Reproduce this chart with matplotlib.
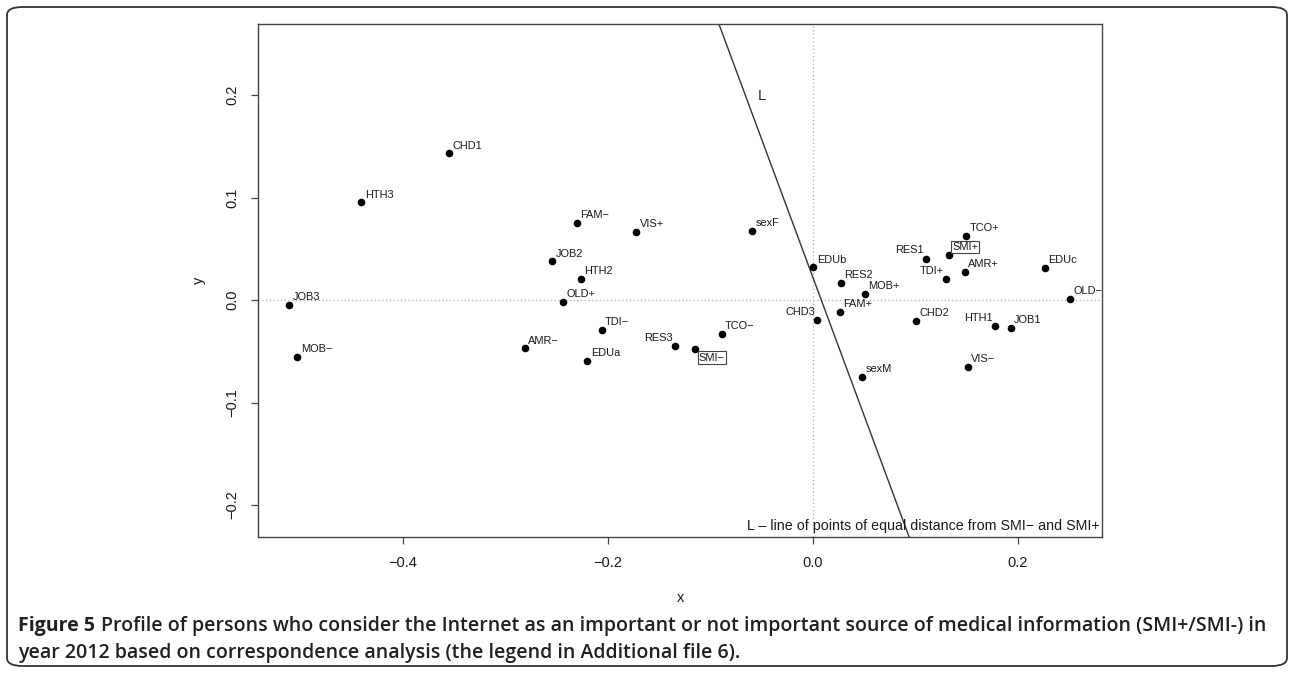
import matplotlib
matplotlib.use("Agg")
import matplotlib.pyplot as plt
from matplotlib.patches import FancyBboxPatch
import numpy as np

M = "\u2212"

# category points from the correspondence analysis
labels = ["CHD1", "HTH3", "FAM" + M, "VIS+", "sexF", "JOB2", "HTH2", "OLD+",
          "JOB3", "MOB" + M, "TDI" + M, "AMR" + M, "EDUa", "RES3", "TCO" + M,
          "EDUb", "RES2", "MOB+", "FAM+", "CHD3", "sexM", "CHD2", "RES1",
          "TCO+", "TDI+", "AMR+", "EDUc", "OLD" + M, "HTH1", "JOB1", "VIS" + M]
xs = [-0.3545, -0.4404, -0.2302, -0.1721, -0.0592, -0.2543, -0.2263, -0.2433,
      -0.5109, -0.5028, -0.2059, -0.2810, -0.2199, -0.1343, -0.0888,
      0.0006, 0.0273, 0.0510, 0.0263, 0.0045, 0.0484, 0.1008, 0.1105,
      0.1496, 0.1300, 0.1486, 0.2266, 0.2510, 0.1779, 0.1932, 0.1512]
ys = [0.1431, 0.0953, 0.0754, 0.0663, 0.0676, 0.0378, 0.0208, -0.0017,
      -0.0049, -0.0556, -0.0293, -0.0471, -0.0592, -0.0452, -0.0329,
      0.0319, 0.0166, 0.0059, -0.0117, -0.0198, -0.0748, -0.0202, 0.0403,
      0.0624, 0.0205, 0.0273, 0.0312, 0.0013, -0.0254, -0.0270, -0.0651]
# labels drawn to the left of their point
left_labels = ["RES3", "CHD3", "RES1", "TDI+", "HTH1"]

smi_labels = ["SMI" + M, "SMI+"]
smi_x = [-0.1145, 0.1327]
smi_y = [-0.0478, 0.0439]

caption_head = "Figure 5"
caption_body = ("Profile of persons who consider the Internet as an important or not important "
                "source of medical information (SMI+/SMI-) in")
caption_line2 = "year 2012 based on correspondence analysis (the legend in Additional file 6)."

plt.rcParams['font.family'] = ['Liberation Sans', 'DejaVu Sans']

fig = plt.figure(figsize=(12.92, 6.73), dpi=100)
ax = fig.add_axes([0.2, 0.2025, 0.6527, 0.7614])

ax.set_xlim(-0.5409, 0.2820)
ax.set_ylim(-0.2309, 0.269)

ax.axhline(0, color='#aaaaaa', ls=(0, (1, 2)), lw=0.9, zorder=1)
ax.axvline(0, color='#aaaaaa', ls=(0, (1, 2)), lw=0.9, zorder=1)

# line of equal distance between SMI- and SMI+ (perpendicular bisector)
mx, my = (smi_x[0] + smi_x[1]) / 2, (smi_y[0] + smi_y[1]) / 2
dx, dy = smi_x[1] - smi_x[0], smi_y[1] - smi_y[0]
yy = np.array([-0.3, 0.3])
ax.plot(mx - dy / dx * (yy - my), yy, color='#333333', lw=1, zorder=2)
ax.text(-0.0495, 0.199, "L", fontsize=10.5, ha='center', va='center', color='#222222')

ax.scatter(xs, ys, s=20, color='black', zorder=3)
ax.scatter(smi_x, smi_y, s=20, color='black', zorder=3)

for lab, x, y in zip(labels, xs, ys):
    if lab in left_labels:
        ax.annotate(lab, (x, y), xytext=(-1.5, 2.5), textcoords='offset points',
                    ha='right', va='bottom', fontsize=7.9, color='#1a1a1a')
    else:
        ax.annotate(lab, (x, y), xytext=(2.5, 2), textcoords='offset points',
                    ha='left', va='bottom', fontsize=7.9, color='#1a1a1a')

box = dict(boxstyle='square,pad=0.1', fc='white', ec='#444444', lw=0.8)
ax.annotate(smi_labels[0], (smi_x[0], smi_y[0]), xytext=(2.5, -2.5), textcoords='offset points',
            ha='left', va='top', fontsize=7.9, color='#1a1a1a', bbox=box)
ax.annotate(smi_labels[1], (smi_x[1], smi_y[1]), xytext=(2.5, 2), textcoords='offset points',
            ha='left', va='bottom', fontsize=7.9, color='#1a1a1a', bbox=box)

ax.text(0.998, 0.013, "L \u2013 line of points of equal distance from SMI" + M + " and SMI+",
        transform=ax.transAxes, ha='right', va='baseline', fontsize=10.3, color='#1a1a1a')

ax.set_xticks([-0.4, -0.2, 0.0, 0.2])
ax.set_xticklabels([M + "0.4", M + "0.2", "0.0", "0.2"])
ax.set_yticks([-0.2, -0.1, 0.0, 0.1, 0.2])
ax.set_yticklabels([M + "0.2", M + "0.1", "0.0", "0.1", "0.2"], rotation=90, va='center')
ax.tick_params(direction='out', length=5, width=0.9, color='#444444',
               labelsize=10.5, pad=9, labelcolor='#1a1a1a')
for sp in ax.spines.values():
    sp.set_color('#444444')
    sp.set_linewidth(1)

ax.set_xlabel("x", fontsize=10.5, color='#1a1a1a')
ax.set_ylabel("y", fontsize=10.5, color='#1a1a1a')
ax.xaxis.set_label_coords(0.5, -0.1196)
ax.xaxis.label.set_va('center')
ax.yaxis.set_label_coords(-0.0703, 0.5)
ax.yaxis.label.set_va('center')

# rounded frame around the figure
frame = FancyBboxPatch((7 / 1292, 7 / 673), 1280 / 1292, 659 / 673,
                       boxstyle='round,pad=0,rounding_size=0.012',
                       transform=fig.transFigure, fill=False, ec='#333333', lw=1.3)
fig.patches.append(frame)

cap_col = '#231f20'
cap_font = ['Open Sans', 'DejaVu Sans']
t1 = fig.text(18 / 1292, 1 - 626 / 673, caption_head, fontsize=14, fontweight='bold',
              family=cap_font, color=cap_col, va='center')
ax.annotate(caption_body, xy=(1, 0.5), xycoords=t1, xytext=(4, 0), textcoords='offset points',
            fontsize=14, fontweight='semibold', family=cap_font,
            color=cap_col, va='center', ha='left', annotation_clip=False)
fig.text(18 / 1292, 1 - 653 / 673, caption_line2, fontsize=14, fontweight='semibold',
         family=cap_font, color=cap_col, va='center')

fig.savefig("out.png", dpi=100)
